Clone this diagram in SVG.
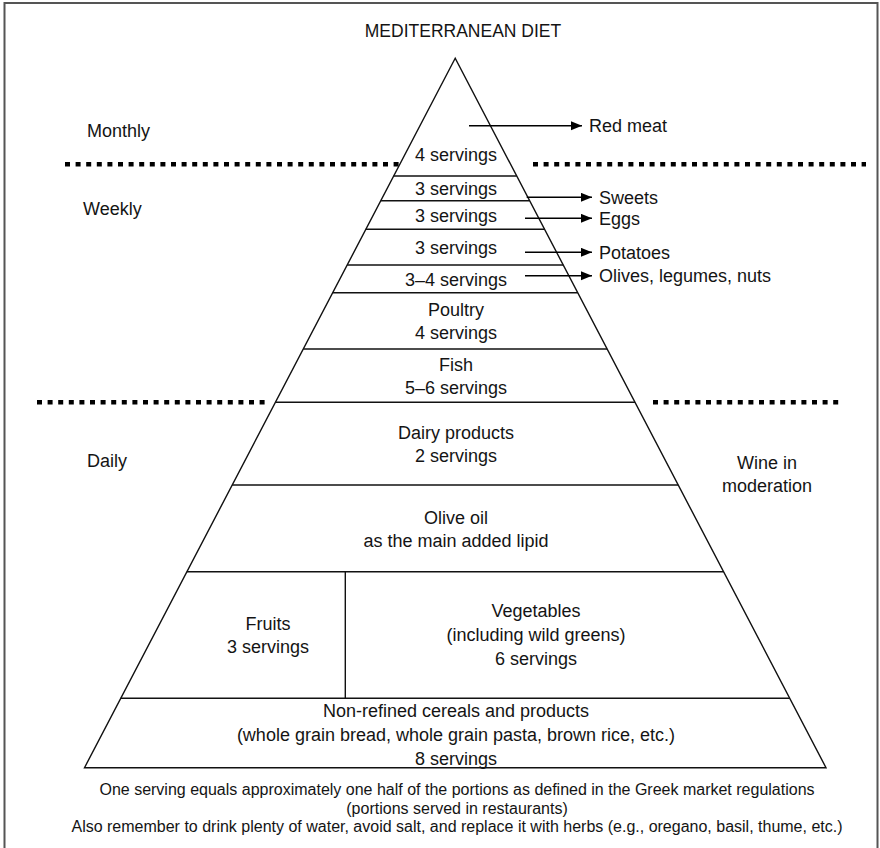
<svg xmlns="http://www.w3.org/2000/svg" width="880" height="848" viewBox="0 0 880 848">
<style>
text{font-family:"Liberation Sans",Arial,Helvetica,sans-serif;font-size:18px;fill:#141414}
.c{text-anchor:middle}
.ft{font-size:16px}
.ttl{font-size:17.5px}
.band{stroke:#111;stroke-width:1.4;fill:none}
.dot{stroke:#000;stroke-width:4.5;stroke-dasharray:5 5.6;fill:none}
.arr{stroke:#000;stroke-width:1.4;fill:none;marker-end:url(#ah)}
</style>
<defs>
<marker id="ah" markerUnits="userSpaceOnUse" markerWidth="12" markerHeight="10" refX="11" refY="4.5" orient="auto">
<path d="M0,0 L11,4.5 L0,9 z" fill="#000"/>
</marker>
</defs>
<rect x="4.5" y="3" width="873" height="870" fill="#fff" stroke="#555" stroke-width="2"/>
<text id="title" class="c ttl" x="463" y="37">MEDITERRANEAN DIET</text>

<g id="frequency-labels">
<text id="monthly" x="87" y="137">Monthly</text>
<text id="weekly" x="83" y="215">Weekly</text>
<text id="daily" x="87" y="467">Daily</text>
</g>

<g id="dividers">
<line class="dot" x1="65" y1="164.3" x2="401" y2="164.3"/>
<line class="dot" x1="533" y1="164.3" x2="866" y2="164.3"/>
<line class="dot" x1="37" y1="402.3" x2="268" y2="402.3"/>
<line class="dot" x1="653" y1="402.3" x2="840" y2="402.3"/>
</g>

<g id="pyramid">
<polygon class="band" stroke-width="1.6" points="455.2,58.3 84.5,767.7 826,767.7"/>
</g>

<g id="red-meat-level"><text class="c" x="456" y="161">4 servings</text></g>
<g id="sweets-level"><line class="band" x1="393.7" y1="176" x2="516.7" y2="176"/><text class="c" x="456" y="195">3 servings</text></g>
<g id="eggs-level"><line class="band" x1="380.8" y1="200.7" x2="529.6" y2="200.7"/><text class="c" x="456" y="222">3 servings</text></g>
<g id="potatoes-level"><line class="band" x1="365.8" y1="229.3" x2="544.6" y2="229.3"/><text class="c" x="456" y="254">3 servings</text></g>
<g id="olives-level"><line class="band" x1="347.2" y1="265" x2="563.2" y2="265"/><text class="c" x="456" y="286">3–4 servings</text></g>
<g id="poultry"><line class="band" x1="332.7" y1="292.7" x2="577.7" y2="292.7"/><text class="c" x="456" y="316">Poultry</text><text class="c" x="456" y="339">4 servings</text></g>
<g id="fish"><line class="band" x1="303.3" y1="349" x2="607.1" y2="349"/><text class="c" x="456" y="371">Fish</text><text class="c" x="456" y="394">5–6 servings</text></g>
<g id="dairy"><line class="band" x1="275.4" y1="402.3" x2="635" y2="402.3"/><text class="c" x="456" y="439">Dairy products</text><text class="c" x="456" y="462">2 servings</text></g>
<g id="olive-oil"><line class="band" x1="232.2" y1="485" x2="678.2" y2="485"/><text class="c" x="456" y="524">Olive oil</text><text class="c" x="456" y="547">as the main added lipid</text></g>
<g id="fruits"><line class="band" x1="186.9" y1="571.7" x2="723.5" y2="571.7"/><line class="band" x1="345.3" y1="571.7" x2="345.3" y2="698.3"/><text class="c" x="268" y="630">Fruits</text><text class="c" x="268" y="653">3 servings</text></g>
<g id="vegetables"><text class="c" x="536" y="617">Vegetables</text><text class="c" x="536" y="641">(including wild greens)</text><text class="c" x="536" y="665">6 servings</text></g>
<g id="cereals"><line class="band" x1="120.7" y1="698.3" x2="789.7" y2="698.3"/><text class="c" x="456" y="717">Non-refined cereals and products</text><text class="c" x="456" y="741">(whole grain bread, whole grain pasta, brown rice, etc.)</text><text class="c" x="456" y="765">8 servings</text></g>

<g id="wine"><text class="c" x="767" y="469">Wine in</text><text class="c" x="767" y="492">moderation</text></g>

<g id="side-labels">
<text id="red-meat" x="589" y="132">Red meat</text>
<text id="sweets" x="599" y="203.5">Sweets</text>
<text id="eggs" x="599" y="224.7">Eggs</text>
<text id="potatoes" x="599" y="258.7">Potatoes</text>
<text id="olives" x="599" y="282">Olives, legumes, nuts</text>
</g>

<g id="connectors">
<line class="arr" x1="469" y1="125.7" x2="582" y2="125.7"/>
<line class="arr" x1="526.7" y1="197.3" x2="592" y2="197.3"/>
<line class="arr" x1="525" y1="218.3" x2="592" y2="218.3"/>
<line class="arr" x1="525" y1="252.3" x2="592" y2="252.3"/>
<line class="arr" x1="525" y1="275.7" x2="592" y2="275.7"/>
</g>

<g id="footer">
<text class="c ft" x="457" y="795">One serving equals approximately one half of the portions as defined in the Greek market regulations</text>
<text class="c ft" x="457" y="814">(portions served in restaurants)</text>
<text class="c ft" x="457" y="832">Also remember to drink plenty of water, avoid salt, and replace it with herbs (e.g., oregano, basil, thume, etc.)</text>
</g>
</svg>
